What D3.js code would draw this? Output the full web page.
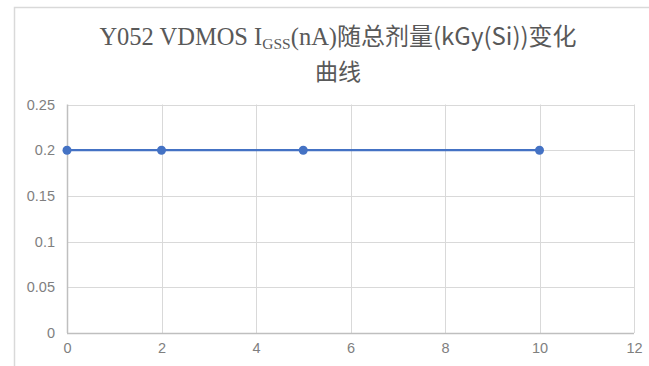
<!DOCTYPE html>
<html>
<head>
<meta charset="utf-8">
<script src="https://cdn.jsdelivr.net/npm/d3@7"></script>
<style>
  html, body { margin: 0; padding: 0; background: #fff; }
  svg { display: block; }
</style>
</head>
<body>
<svg id="chart" width="649" height="366"></svg>
<script>
// Dose (kGy(Si)) and gate leakage IGSS (nA)
const doses = [0, 2, 5, 10];
const igss = [0.2, 0.2, 0.2, 0.2];
const xTicks = [0, 2, 4, 6, 8, 10, 12];
const yTicks = [0, 0.05, 0.1, 0.15, 0.2, 0.25];

const svg = d3.select("#chart");
const W = 649, H = 366;
const plot = { left: 67, right: 634, top: 104.5, bottom: 333 };

// chart frame
svg.append("path")
  .attr("d", `M14.5,${H} L14.5,7.5 L${W},7.5`)
  .attr("fill", "none")
  .attr("stroke", "#d9d9d9")
  .attr("stroke-width", 1.5);

const x = d3.scaleLinear().domain([0, 12]).range([plot.left, plot.right]);
const y = d3.scaleLinear().domain([0, 0.25]).range([plot.bottom, plot.top]);

// gridlines
const grid = svg.append("g");
grid.selectAll("line.h").data(yTicks.filter(d => d > 0)).join("line")
  .attr("x1", plot.left).attr("x2", plot.right)
  .attr("y1", d => Math.round(y(d)) + 0.5).attr("y2", d => Math.round(y(d)) + 0.5)
  .attr("stroke", "#d9d9d9").attr("stroke-width", 1);
grid.selectAll("line.v").data(xTicks.filter(d => d > 0)).join("line")
  .attr("y1", plot.top).attr("y2", plot.bottom)
  .attr("x1", d => Math.round(x(d)) + 0.5).attr("x2", d => Math.round(x(d)) + 0.5)
  .attr("stroke", "#d9d9d9").attr("stroke-width", 1);

// axes
const xAxis = d3.axisBottom(x).tickValues(xTicks).tickSize(0).tickPadding(10).tickFormat(d3.format("d"));
const yAxis = d3.axisLeft(y).tickValues(yTicks).tickSize(0).tickPadding(12).tickFormat(d => d === 0 ? "0" : String(d));

const gx = svg.append("g").attr("transform", `translate(0,${plot.bottom})`).call(xAxis);
const gy = svg.append("g").attr("transform", `translate(${plot.left},0)`).call(yAxis);
[gx, gy].forEach(g => {
  g.select(".domain").attr("stroke", "#bfbfbf").attr("stroke-width", 1.5);
  g.selectAll("text")
    .attr("fill", "#7f7f7f")
    .style("font-family", "'Liberation Sans', Arial, sans-serif")
    .style("font-size", "14.5px");
});
gx.select(".domain").attr("d", `M${plot.left},0.5H${plot.right}`);
gy.select(".domain").attr("d", `M0.5,${plot.bottom}V${plot.top}`);

// series line and markers
const line = d3.line().x((d, i) => x(doses[i])).y(d => y(d));
svg.append("path")
  .datum(igss)
  .attr("d", line)
  .attr("fill", "none")
  .attr("stroke", "#4472c4")
  .attr("stroke-width", 2.25);
svg.selectAll("circle.pt").data(igss).join("circle")
  .attr("cx", (d, i) => x(doses[i]))
  .attr("cy", d => y(d))
  .attr("r", 4.5)
  .attr("fill", "#4472c4");

// title
const serif = "'Liberation Serif', 'Times New Roman', serif";
const sans = "'Noto Sans CJK SC', 'Liberation Sans', sans-serif";
const title = svg.append("text")
  .attr("x", 338).attr("y", 45)
  .attr("text-anchor", "middle")
  .attr("fill", "#595959")
  .style("font-size", "24.5px");
title.append("tspan").style("font-family", serif).text("Y052 VDMOS I");
title.append("tspan").style("font-family", serif).style("font-size", "15.5px").attr("dy", 4).text("GSS");
title.append("tspan").style("font-family", serif).attr("dy", -4).text("(nA)");
title.append("tspan").style("font-family", sans).style("font-size", "24px").text("随总剂量(kGy(Si))变化");

svg.append("text")
  .attr("x", 338).attr("y", 80)
  .attr("text-anchor", "middle")
  .attr("fill", "#595959")
  .style("font-family", sans)
  .style("font-size", "23px")
  .text("曲线");
</script>
</body>
</html>
